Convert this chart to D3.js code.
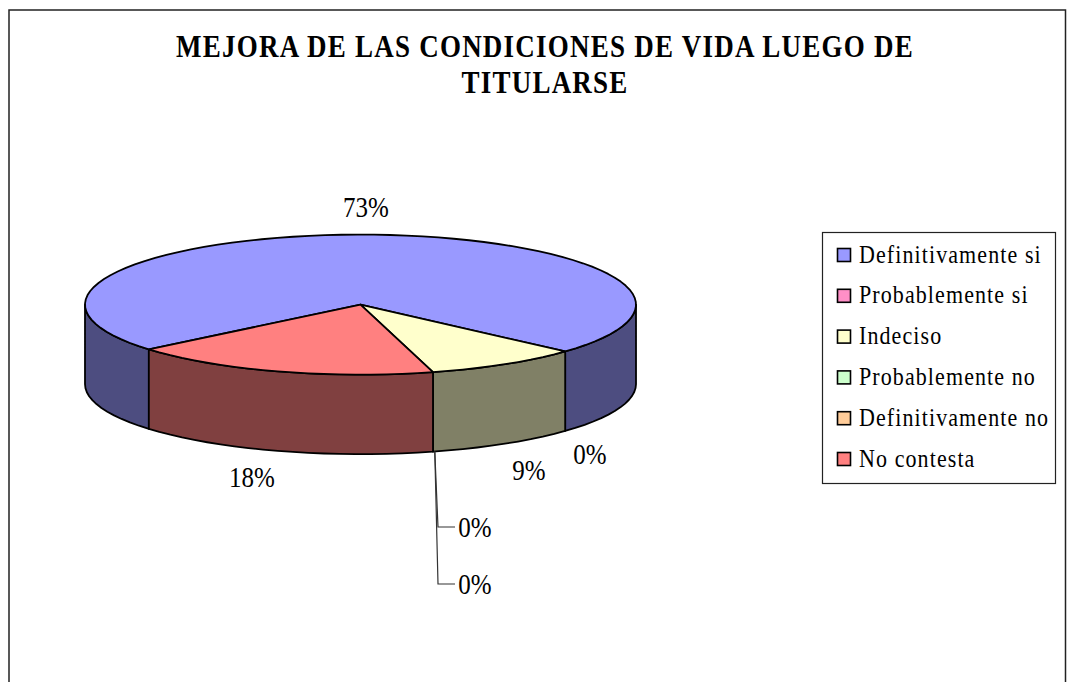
<!DOCTYPE html>
<html><head><meta charset="utf-8">
<script src="https://d3js.org/d3.v7.min.js"></script>
<style>html,body{margin:0;padding:0;background:#fff}svg{display:block}text{font-family:"Liberation Serif",serif;fill:#000}</style>
</head><body><svg id="c" width="1075" height="682"></svg>
<script>
const titleLines = ["MEJORA DE LAS CONDICIONES DE VIDA LUEGO DE", "TITULARSE"];
const categories = ["Definitivamente si","Probablemente si","Indeciso","Probablemente no","Definitivamente no","No contesta"];
const values = [8,0,1,0,0,2];
const percentLabels = ["73%","0%","9%","0%","0%","18%"];
const topColors = ["#9999FF","#FF8FC7","#FFFFCC","#CCFFCC","#FFCC99","#FF8080"];
const wallColors = ["#4D4D80","#804766","#808066","#668066","#806640","#804040"];
const stretch = 1.15;

const svg = d3.select("#c");
svg.append("path").attr("d","M9,682V10H1065.5V682").attr("fill","none").attr("stroke","#222").attr("stroke-width",1.5);

svg.append("g").selectAll("text").data(titleLines).join("text")
  .attr("transform",(d,i)=>`translate(545,${57+i*36}) scale(1,${stretch})`).attr("text-anchor","middle")
  .attr("font-size",27).attr("letter-spacing",1.25).attr("font-weight","bold").text(d=>d);

const cx=360.5, cy=304.6, rx=275.5, ry=70, depth=79.5;
const pie = d3.pie().sort(null).startAngle(230.2*Math.PI/180).endAngle((230.2+360)*Math.PI/180);
const arcs = pie(values);
const px = d3.scaleLinear().domain([-1,1]).range([cx-rx,cx+rx]);
const py = d3.scaleLinear().domain([-1,1]).range([cy-ry,cy+ry]);
const pt = (a,dz=0)=>[px(Math.sin(a)),py(-Math.cos(a))+dz];
const steps = (a0,a1)=>{const n=Math.max(2,Math.ceil(Math.abs(a1-a0)/0.06));return d3.range(n+1).map(i=>a0+(a1-a0)*i/n);};
const line = d3.line();

const wallG = svg.append("g"), topG = svg.append("g");
const tau=2*Math.PI, frontA=Math.PI/2, frontB=3*Math.PI/2;
arcs.forEach((d,i)=>{
  if(d.value===0) return;
  for(const k of [-1,0,1]){
    const a0=Math.max(d.startAngle,frontA+k*tau), a1=Math.min(d.endAngle,frontB+k*tau);
    if(a1<=a0) continue;
    const s=steps(a0,a1);
    const pts=s.map(a=>pt(a)).concat(s.slice().reverse().map(a=>pt(a,depth)));
    wallG.append("path").attr("d",line(pts)+"Z").attr("fill",wallColors[i]).attr("stroke","#000").attr("stroke-width",1.8).attr("stroke-linejoin","round");
  }
});
arcs.forEach((d,i)=>{
  if(d.value===0) return;
  const pts=[[cx,cy]].concat(steps(d.startAngle,d.endAngle).map(a=>pt(a)));
  topG.append("path").attr("d",line(pts)+"Z").attr("fill",topColors[i]).attr("stroke","#000").attr("stroke-width",1.8).attr("stroke-linejoin","round");
});

// leader lines
const leaderOrigin = pt(arcs[5].startAngle-0.003, depth);
[[438,527],[438,584]].forEach(t=>{
  svg.append("path").attr("d",line([[leaderOrigin[0]+1,leaderOrigin[1]],t,[455,t[1]]]))
    .attr("fill","none").attr("stroke","#333").attr("stroke-width",1.2);
});

// data labels, placed by hand around the pie
const labelX=[366,590,529,475,475,252], labelY=[216.5,464,480,537,594,487];
svg.append("g").selectAll("text").data(percentLabels).join("text")
  .attr("transform",(d,i)=>`translate(${labelX[i]},${labelY[i]}) scale(1,${stretch})`)
  .attr("text-anchor","middle").attr("font-size",25).text(d=>d);

// legend
svg.append("rect").attr("x",822.5).attr("y",232.5).attr("width",233).attr("height",251).attr("fill","#fff").attr("stroke","#222").attr("stroke-width",1.2);
const ly = d3.scalePoint().domain(categories).range([255,459]);
const lg = svg.append("g").selectAll("g").data(categories).join("g").attr("transform",d=>`translate(0,${ly(d)})`);
lg.append("rect").attr("x",837.5).attr("y",-6.5).attr("width",13).attr("height",13).attr("fill",(d,i)=>topColors[i]).attr("stroke","#000").attr("stroke-width",1.6);
lg.append("text").attr("transform",`translate(859,7.5) scale(1,${stretch})`).attr("font-size",22).attr("letter-spacing",1.1).text(d=>d);
</script></body></html>
